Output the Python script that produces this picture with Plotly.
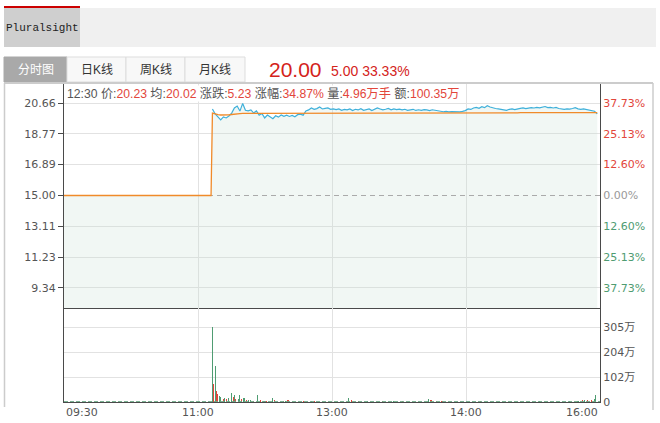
import plotly.graph_objects as go

W, H = 660, 423
ML, MR, MT, MB = 64, 60, 83, 21
PW = W - ML - MR
PH = H - MT - MB


def px(x):
    return (x - ML) / PW


def py(y):
    return (H - MB - y) / PH


# ---------------- data ----------------
stock_name = "Pluralsight"
last_price = "20.00"
last_change = "5.00"
last_pct = "33.33%"
prev_close = 15.00

pre_minutes = [0, 107]
pre_price = [15.00, 15.00]

price_minutes = list(range(108, 389, 2))
price = [
    20.30, 19.99, 19.81, 19.63, 19.81, 19.75, 19.87, 20.05, 20.36, 20.48,
    20.17, 20.64, 20.22, 20.18, 20.24, 20.05, 20.18, 19.92, 20.02, 19.75,
    19.93, 19.84, 19.70, 19.88, 19.80, 19.93, 19.85, 19.92, 19.84, 19.90,
    19.82, 19.95, 19.98, 19.92, 20.18, 20.24, 20.36, 20.28, 20.32, 20.42,
    20.30, 20.34, 20.36, 20.28, 20.30,
    20.26, 20.30, 20.22, 20.27, 20.24, 20.30, 20.20, 20.28, 20.24, 20.32,
    20.22, 20.26, 20.30, 20.20, 20.27, 20.36, 20.30, 20.24, 20.28, 20.33,
    20.25, 20.30, 20.26, 20.29, 20.24, 20.28, 20.22, 20.26, 20.28, 20.21,
    20.25, 20.22, 20.26, 20.24, 20.20, 20.25, 20.22, 20.18, 20.14, 20.13,
    20.15, 20.12, 20.14, 20.13, 20.16, 20.12, 20.15, 20.20, 20.30, 20.27,
    20.36, 20.40, 20.34, 20.44, 20.38, 20.50, 20.42, 20.36, 20.33, 20.30,
    20.28, 20.24, 20.22, 20.28, 20.30, 20.26, 20.31, 20.34, 20.36, 20.32,
    20.35, 20.38, 20.36, 20.40, 20.37, 20.42, 20.45, 20.38, 20.40, 20.36,
    20.39, 20.33, 20.30, 20.28, 20.31, 20.29, 20.33, 20.38, 20.31, 20.28,
    20.30, 20.26, 20.24, 20.22, 20.16, 20.00,
]
avg = [
    20.04, 19.98, 19.95, 19.93, 19.92, 19.93, 19.94, 19.96, 19.99, 20.01,
    20.02, 20.03, 20.03, 20.03, 20.03, 20.03, 20.03, 20.02, 20.02, 20.02,
    20.02, 20.02, 20.02, 20.02, 20.02, 20.02, 20.02, 20.02, 20.02, 20.02,
    20.02, 20.02, 20.02, 20.02, 20.02, 20.02, 20.02, 20.02, 20.02, 20.02,
    20.02, 20.02, 20.02, 20.02, 20.02,
    20.02, 20.02, 20.02, 20.02, 20.02, 20.02, 20.02, 20.02, 20.02, 20.02,
    20.02, 20.02, 20.02, 20.02, 20.02, 20.02, 20.02, 20.02, 20.02, 20.02,
    20.03, 20.03, 20.03, 20.03, 20.03, 20.03, 20.03, 20.03, 20.03, 20.03,
    20.03, 20.03, 20.03, 20.03, 20.03, 20.03, 20.03, 20.03, 20.03, 20.03,
    20.03, 20.03, 20.03, 20.03, 20.03, 20.03, 20.03, 20.03, 20.03, 20.03,
    20.04, 20.04, 20.04, 20.04, 20.04, 20.04, 20.04, 20.04, 20.04, 20.04,
    20.04, 20.04, 20.04, 20.04, 20.04, 20.05, 20.06, 20.07, 20.08, 20.08,
    20.08, 20.08, 20.08, 20.08, 20.08, 20.08, 20.08, 20.08, 20.08, 20.08,
    20.08, 20.08, 20.08, 20.08, 20.08, 20.08, 20.08, 20.08, 20.08, 20.08,
    20.08, 20.08, 20.08, 20.08, 20.08, 20.08,
]

vol_minutes = [108, 109, 110, 111, 112, 113, 114, 116, 117, 118,
               120, 122, 123, 124, 125, 127, 128, 129, 131, 133,
               134, 136, 138, 141, 143, 145, 146, 147, 152, 153,
               160, 161, 163, 174, 180, 182, 207, 209, 214, 221,
               232, 240, 246, 265, 267, 271, 275, 303, 346, 368,
               374, 377, 379, 381, 384, 386, 387]
vol_values = [305, 72, 146, 45, 33, 23, 22, 12, 18, 11,
              16, 37, 20, 27, 12, 11, 27, 12, 15, 9,
              10, 7, 6, 27, 8, 6, 6, 6, 15, 10,
              6, 5, 8, 6, 5, 5, 15, 8, 5, 6,
              5, 6, 5, 12, 8, 5, 6, 4, 4, 5,
              6, 8, 10, 10, 8, 14, 28]
vol_dir = ['d', 'u', 'd', 'u', 'u', 'd', 'd', 'u', 'd', 'u',
           'd', 'd', 'u', 'd', 'u', 'd', 'd', 'u', 'd', 'u',
           'd', 'd', 'u', 'd', 'u', 'd', 'd', 'u', 'd', 'u',
           'u', 'd', 'u', 'u', 'd', 'u', 'd', 'u', 'u', 'd',
           'u', 'd', 'u', 'd', 'u', 'u', 'u', 'u', 'd', 'd',
           'd', 'u', 'd', 'u', 'u', 'd', 'd']

price_ticks = [9.34, 11.23, 13.11, 15.00, 16.89, 18.77, 20.66]
pct_labels = ['37.73%', '25.13%', '12.60%', '0.00%', '12.60%', '25.13%', '37.73%']
vol_ticks = [0, 101.7, 203.3, 305]
vol_labels = ['0', '102万', '204万', '305万']
time_ticks = [0, 97.5, 195, 292.5, 390]
time_labels = ['09:30', '11:00', '13:00', '14:00', '16:00']

tabs = ['分时图', '日K线', '周K线', '月K线']
header_items = [('12:30 价:', '20.23'), (' 均:', '20.02'), (' 涨跌:', '5.23'),
                (' 涨幅:', '34.87%'), (' 量:', '4.96万手'), (' 额:', '100.35万')]

# ---------------- style ----------------
RED = '#e2463b'
GREEN = '#4f9c72'
GRID = '#e2e2e2'
AXIS = '#4a4a4a'
FONT = 'DejaVu Sans, Noto Sans CJK SC, sans-serif'
CJK = 'Liberation Sans, Noto Sans CJK SC, sans-serif'

fig = go.Figure()

# area under the price line (main price axis)
fig.add_trace(go.Scatter(
    x=pre_minutes + price_minutes, y=pre_price + price,
    mode='lines', line=dict(width=0), fill='tozeroy',
    fillcolor='rgba(200,225,210,0.25)', hoverinfo='skip',
    xaxis='x', yaxis='y'))
# previous close reference line (percent axis)
fig.add_trace(go.Scatter(
    x=[time_ticks[0], time_ticks[-1]], y=[prev_close, prev_close],
    mode='lines', line=dict(color='#aaaaaa', width=1, dash='5px,4px'),
    hoverinfo='skip', xaxis='x', yaxis='y3'))
# price and average lines (grid axis)
fig.add_trace(go.Scatter(
    x=price_minutes, y=price, mode='lines',
    line=dict(color='#3eb0da', width=1.2), xaxis='x', yaxis='y4'))
fig.add_trace(go.Scatter(
    x=pre_minutes + price_minutes, y=pre_price + avg, mode='lines',
    line=dict(color='#f08a2a', width=1.3), xaxis='x', yaxis='y4'))
fig.add_trace(go.Bar(
    x=vol_minutes, y=vol_values, width=0.8,
    marker=dict(color=[RED if d == 'u' else GREEN for d in vol_dir], line=dict(width=0)),
    xaxis='x2', yaxis='y2'))


def pct_color(v):
    if v > prev_close:
        return RED
    if v < prev_close:
        return GREEN
    return '#999999'


pct_text = ['<span style="color:%s">%s</span>' % (pct_color(v), t)
            for v, t in zip(price_ticks, pct_labels)]
grid_ticks = [v for v in price_ticks if v != prev_close]
prange = [8.11, 21.89]
split = py(308)

fig.update_layout(
    width=W, height=H,
    margin=dict(l=ML, r=MR, t=MT, b=MB, pad=0),
    paper_bgcolor='white', plot_bgcolor='white',
    showlegend=False, bargap=0, hovermode=False,
    font=dict(family=FONT, size=11, color='#555555'),
    xaxis=dict(domain=[0, 1], range=[0, 390], anchor='y', tickvals=time_ticks,
               showticklabels=False, showgrid=True, gridcolor=GRID, gridwidth=1,
               ticks='', showline=True, linecolor=AXIS, linewidth=1, zeroline=False),
    xaxis2=dict(domain=[0, 1], range=[0, 390], anchor='y2', matches='x', tickvals=time_ticks,
                showticklabels=False, showgrid=True, gridcolor=GRID, gridwidth=1,
                ticks='', showline=True, linecolor=AXIS, linewidth=1, zeroline=False),
    yaxis=dict(domain=[split, 1], range=prange, anchor='x', tickvals=price_ticks,
               ticktext=['%.2f' % v for v in price_ticks], showgrid=False,
               ticks='outside', ticklen=5, tickcolor=AXIS, showline=True,
               linecolor=AXIS, linewidth=1, zeroline=False,
               tickfont=dict(size=11, color='#555555')),
    yaxis3=dict(overlaying='y', side='right', range=prange, anchor='x',
                tickvals=price_ticks, ticktext=pct_text, showgrid=False, ticks='',
                showline=True, linecolor=AXIS, linewidth=1, zeroline=False,
                tickfont=dict(size=11)),
    yaxis4=dict(overlaying='y', side='left', range=prange, anchor='x',
                tickvals=grid_ticks, showticklabels=False, showgrid=True, gridcolor=GRID,
                ticks='', showline=False, zeroline=False),
    yaxis2=dict(domain=[0, split], range=[0, 384], anchor='x2', side='right',
                tickvals=vol_ticks, ticktext=vol_labels, showgrid=True, gridcolor=GRID,
                ticks='', showline=True, mirror=True, linecolor=AXIS, linewidth=1,
                zeroline=False, tickfont=dict(size=11, color='#555555')),
)

shapes = []
ann = []
# top bar
shapes.append(dict(type='rect', xref='paper', yref='paper', x0=px(4), x1=px(656), y0=py(47), y1=py(8),
                   fillcolor='#f0f0f0', line=dict(width=0), layer='above'))
shapes.append(dict(type='rect', xref='paper', yref='paper', x0=px(4), x1=px(80), y0=py(47), y1=py(8),
                   fillcolor='#cfcfcf', line=dict(width=0), layer='above'))
shapes.append(dict(type='rect', xref='paper', yref='paper', x0=px(4), x1=px(80), y0=py(8), y1=py(6),
                   fillcolor='#cc0000', line=dict(width=0), layer='above'))
ann.append(dict(text=stock_name, xref='paper', yref='paper', x=px(42), y=py(28),
                showarrow=False, xanchor='center', yanchor='middle',
                font=dict(family='Liberation Mono, monospace', size=11, color='#222222')))
# tabs
tab_edges = [4, 67, 126, 185, 245]
for i, t in enumerate(tabs):
    active = i == 0
    shapes.append(dict(type='rect', xref='paper', yref='paper', x0=px(tab_edges[i]), x1=px(tab_edges[i + 1]),
                       y0=py(82), y1=py(57), fillcolor='#a9a9a9' if active else '#f8f8f8',
                       line=dict(width=1, color='#a9a9a9' if active else '#dddddd'), layer='above'))
    ann.append(dict(text=t, xref='paper', yref='paper', x=px((tab_edges[i] + tab_edges[i + 1]) / 2),
                    y=py(70), showarrow=False, xanchor='center', yanchor='middle',
                    font=dict(family=CJK, size=12, color='white' if active else '#333333')))
ann.append(dict(text=last_price, xref='paper', yref='paper', x=px(267), y=py(70),
                showarrow=False, xanchor='left', yanchor='middle',
                font=dict(family='Liberation Sans, Arial', size=21, color='#d4231b')))
ann.append(dict(text=last_change + ' ' + last_pct, xref='paper', yref='paper', x=px(329), y=py(71),
                showarrow=False, xanchor='left', yanchor='middle',
                font=dict(family='Liberation Sans, Arial', size=14, color='#d4231b')))
# frame
shapes.append(dict(type='line', xref='paper', yref='paper', x0=px(4), x1=px(653), y0=py(83), y1=py(83),
                   line=dict(color='#cccccc', width=2), layer='above'))
shapes.append(dict(type='line', xref='paper', yref='paper', x0=px(4.5), x1=px(4.5), y0=py(83), y1=py(407),
                   line=dict(color='#cccccc', width=1.5), layer='above'))
shapes.append(dict(type='line', xref='paper', yref='paper', x0=px(653), x1=px(653), y0=py(83), y1=py(410),
                   line=dict(color='#cccccc', width=1.5), layer='above'))
# volume baseline ticks (zero-volume minutes)
shapes.append(dict(type='line', xref='x2', yref='y2', x0=time_ticks[0], x1=time_ticks[-1], y0=1.5, y1=1.5,
                   line=dict(color='#6aa884', width=1, dash='4px,2px'), layer='above'))
# header text
htxt = ''.join('<span style="color:#555555">%s</span><span style="color:%s">%s</span>' % (a, RED, b)
               for a, b in header_items)
ann.append(dict(text=htxt, xref='paper', yref='paper', x=px(66), y=py(94), showarrow=False,
                xanchor='left', yanchor='middle', bgcolor='white', borderpad=0,
                font=dict(family=CJK, size=12.2)))
# time labels
anchors = ['left', 'center', 'center', 'center', 'right']
for t, lab, a in zip(time_ticks, time_labels, anchors):
    ann.append(dict(text=lab, xref='x2', yref='paper', x=t, y=py(412), showarrow=False,
                    xanchor=a, yanchor='middle', font=dict(size=11, color='#555555')))

fig.update_layout(shapes=shapes, annotations=ann)
fig.write_html('out.html', config={'displayModeBar': False, 'staticPlot': True},
               post_script="document.body.style.margin='0px';")
